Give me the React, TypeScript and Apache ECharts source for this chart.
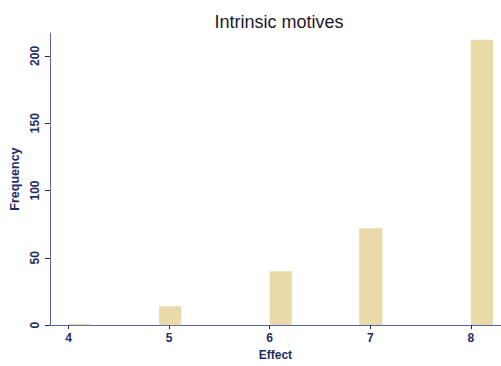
import React, { useEffect, useRef } from "react";
import * as echarts from "echarts";

// Histogram bins of the "Effect" score
const binLeft = [4.0, 4.9, 6.0, 6.89, 8.0];
const binRight = [4.22, 5.12, 6.22, 7.12, 8.22];
const frequency = [1, 14, 40, 72, 212];
const xTicks = [4, 5, 6, 7, 8];
const yTicks = [0, 50, 100, 150, 200];

const ink = "#1f2c66";
const axisBlue = "#5565a8";

export default function App() {
  const ref = useRef<HTMLDivElement>(null);

  useEffect(() => {
    if (!ref.current) return;
    const chart = echarts.init(ref.current, undefined, { renderer: "svg" });
    const data = frequency.map((f, i) => [binLeft[i], binRight[i], f]);

    chart.setOption({
      animation: false,
      backgroundColor: "#ffffff",
      title: {
        text: "Intrinsic motives",
        left: 274,
        textAlign: "center",
        top: 8,
        textStyle: {
          fontFamily: "Liberation Sans",
          fontSize: 18,
          fontWeight: "normal",
          color: "#1a1a2a",
        },
      },
      grid: { left: 43, right: 0, top: 33, bottom: 40 },
      xAxis: {
        type: "value",
        min: 3.814,
        max: 8.3,
        name: "Effect",
        nameLocation: "middle",
        nameGap: 20,
        nameTextStyle: {
          fontFamily: "Liberation Sans",
          fontSize: 12,
          fontWeight: "bold",
          color: ink,
        },
        splitLine: { show: false },
        axisLine: { show: true, onZero: false, lineStyle: { color: axisBlue, width: 1 } },
        axisTick: {
          show: true,
          customValues: xTicks,
          length: 4,
          lineStyle: { color: "#2a2a40" },
        },
        axisLabel: {
          customValues: xTicks,
          margin: 7,
          fontFamily: "Liberation Sans",
          fontSize: 12,
          fontWeight: "bold",
          color: ink,
        },
      },
      yAxis: {
        type: "value",
        min: 0,
        max: 217,
        name: "Frequency",
        nameLocation: "middle",
        nameGap: 27,
        nameRotate: 90,
        nameTextStyle: {
          fontFamily: "Liberation Sans",
          fontSize: 12.5,
          fontWeight: "bold",
          color: ink,
        },
        splitLine: { show: false },
        axisLine: { show: true, lineStyle: { color: axisBlue, width: 1 } },
        axisTick: {
          show: true,
          customValues: yTicks,
          length: 5,
          lineStyle: { color: "#2a2a40" },
        },
        axisLabel: {
          customValues: yTicks,
          rotate: 90,
          margin: 9,
          fontFamily: "Liberation Sans",
          fontSize: 12,
          fontWeight: "bold",
          color: ink,
        },
      },
      series: [
        {
          type: "custom",
          data,
          encode: { x: [0, 1], y: 2 },
          renderItem: (params: any, api: any) => {
            const topLeft = api.coord([api.value(0), api.value(2)]);
            const bottomRight = api.coord([api.value(1), 0]);
            return {
              type: "rect",
              shape: {
                x: topLeft[0],
                y: topLeft[1],
                width: bottomRight[0] - topLeft[0],
                height: bottomRight[1] - topLeft[1],
              },
              style: { fill: "#ead9a9", stroke: "none" },
            };
          },
          z: 1,
        },
      ],
    });

    return () => chart.dispose();
  }, []);

  return (
    <div
      ref={ref}
      style={{ position: "fixed", left: 0, top: 0, width: 501, height: 366 }}
    />
  );
}
